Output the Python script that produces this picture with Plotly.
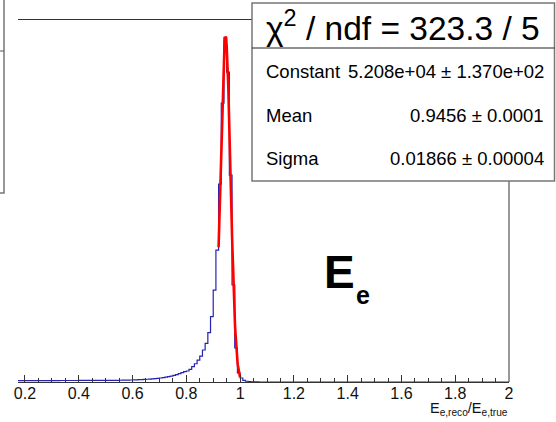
import numpy as np
import plotly.graph_objects as go

# ---------------- data ----------------
bin_start = 0.17          # lower edge of the first bin
bin_width = 0.01
counts = [
    200, 200, 205, 205, 205, 210, 210, 210, 215, 215,          # 0.17-0.26
    215, 215, 220, 220, 220, 220, 225, 225, 225, 225,          # 0.27-0.36
    230, 230, 230, 232, 235, 235, 238, 240, 240, 242,          # 0.37-0.46
    245, 245, 248, 250, 252, 255, 258, 260, 265, 270,          # 0.47-0.56
    280, 290, 300, 315, 330, 345, 365, 390, 415, 440,          # 0.57-0.66
    470, 500, 540, 600, 660, 730, 800, 900, 1000, 1120,        # 0.67-0.76
    1250, 1400, 1550, 1660, 1915, 2310, 2750, 3300, 3900, 4830,  # 0.77-0.86
    5840, 7440, 9850, 13870, 19900, 29860, 42070, 52000, 46750, 31200,  # 0.87-0.96
    14630, 5130, 1360, 600, 250, 110, 50, 25, 12, 5,           # 0.97-1.06
    0, 0, 0, 0, 0, 0, 0, 0, 0, 0,                              # 1.07-1.16
    0, 0, 0, 0, 0, 0, 0, 0, 0, 0,
    0, 0, 0, 0, 0, 0, 0, 0, 0, 0,
    0, 0, 0, 0, 0, 0, 0, 0, 0, 0,
    0, 0, 0, 0, 0, 0, 0, 0, 0, 0,
    0, 0, 0, 0, 0, 0, 0, 0, 0, 0,
    0, 0, 0, 0, 0, 0, 0, 0, 0, 0,
    0, 0, 0, 0, 0, 0, 0, 0, 0, 0,
    0, 0, 0, 0, 0, 0, 0, 0, 0, 0,
    0, 0, 0, 0, 0, 0, 0, 0, 0, 0,
    0, 0, 0,                                                   # up to 2.00
]

fit_const = 5.208e4
fit_mean = 0.9456
fit_sigma = 0.01866
fit_range = (0.92, 1.00)

chi2_text = "χ<sup>2</sup> / ndf = 323.3 / 5"
stat_rows = [("Constant", "5.208e+04 ± 1.370e+02"),
             ("Mean", "0.9456 ± 0.0001"),
             ("Sigma", "0.01866 ± 0.00004")]
xtick_vals = [0.2, 0.4, 0.6, 0.8, 1.0, 1.2, 1.4, 1.6, 1.8, 2.0]
xtick_text = ["0.2", "0.4", "0.6", "0.8", "1", "1.2", "1.4", "1.6", "1.8", "2"]

# ---------------- layout geometry ----------------
W, H = 556, 422
L, R, T, B = 18, 47, 20, 40
PW, PH = W - L - R, H - T - B
def px(x):
    return (x - L) / PW
def py(y):
    return 1 - (y - T) / PH

FONT = "Liberation Sans, Arial, sans-serif"

edges = bin_start + bin_width * np.arange(len(counts) + 1)
hx = list(edges)
hy = list(counts) + [counts[-1]]

fx = np.linspace(fit_range[0], fit_range[1], 200)
fy = fit_const * np.exp(-0.5 * ((fx - fit_mean) / fit_sigma) ** 2)

fig = go.Figure()
fig.add_trace(go.Scatter(x=hx, y=hy, mode="lines", line=dict(color="#2424b0", width=1.2, shape="hv"),
                         hoverinfo="skip", showlegend=False))
fig.add_trace(go.Scatter(x=fx, y=fy, mode="lines", line=dict(color="#ff0000", width=2.6),
                         hoverinfo="skip", showlegend=False))

ymax = 54600
fig.update_layout(
    width=W, height=H, margin=dict(l=L, r=R, t=T, b=B),
    paper_bgcolor="white", plot_bgcolor="white", showlegend=False,
    font=dict(family=FONT, color="black"),
    xaxis=dict(range=[0.174, 2.0], showgrid=False, zeroline=False,
               showline=True, mirror=True, linecolor="#333", linewidth=1,
               ticks="inside", ticklen=7, tickcolor="#333", tickwidth=1,
               tickvals=xtick_vals, ticktext=xtick_text, ticklabelstandoff=-3,
               tickfont=dict(size=16, family=FONT, color="#111"),
               minor=dict(ticks="inside", ticklen=4, dtick=0.05, tick0=0.2, tickcolor="#333")),
    yaxis=dict(range=[0, ymax], visible=False, showgrid=False, zeroline=False),
)

shapes = []
# right frame edge
shapes.append(dict(type="line", xref="paper", yref="paper", x0=1, x1=1, y0=0, y1=1,
                   line=dict(color="#333", width=1)))
# left (cropped) stats box
shapes.append(dict(type="rect", xref="paper", yref="paper", x0=px(-10), x1=px(4), y0=py(193), y1=py(-10),
                   line=dict(color="#777", width=1.5), fillcolor="white", layer="above"))
shapes.append(dict(type="line", xref="paper", yref="paper", x0=px(-10), x1=px(4), y0=py(51), y1=py(51),
                   line=dict(color="#555", width=1), layer="above"))
# fit stats box
shapes.append(dict(type="rect", xref="paper", yref="paper", x0=px(252), x1=px(554.5), y0=py(181), y1=py(3),
                   line=dict(color="#777", width=1.5), fillcolor="white", layer="above"))
shapes.append(dict(type="line", xref="paper", yref="paper", x0=px(252), x1=px(554.5), y0=py(48), y1=py(48),
                   line=dict(color="#222", width=1), layer="above"))
fig.update_layout(shapes=shapes)

ann = []
ann.append(dict(text=chi2_text, xref="paper", yref="paper", x=px(403), y=py(26), xanchor="center",
                yanchor="middle", showarrow=False, font=dict(size=33.5, family=FONT, color="black")))
row_y = [72, 115, 158]
for (lab, val), yy in zip(stat_rows, row_y):
    ann.append(dict(text=lab, xref="paper", yref="paper", x=px(264), y=py(yy), xanchor="left",
                    yanchor="middle", showarrow=False, font=dict(size=18.5, family=FONT, color="black")))
    ann.append(dict(text=val, xref="paper", yref="paper", x=px(546), y=py(yy), xanchor="right",
                    yanchor="middle", showarrow=False, font=dict(size=18.5, family=FONT, color="black")))
# big E_e label
ann.append(dict(text="<b>E</b>", xref="paper", yref="paper", x=px(322), y=py(272), xanchor="left",
                yanchor="middle", showarrow=False, font=dict(size=46, family=FONT, color="black")))
ann.append(dict(text="<b>e</b>", xref="paper", yref="paper", x=px(354), y=py(295), xanchor="left",
                yanchor="middle", showarrow=False, font=dict(size=25, family=FONT, color="black")))
# x-axis title
ann.append(dict(text="E<sub>e,reco</sub>/E<sub>e,true</sub>", xref="paper", yref="paper",
                x=px(510), y=py(409), xanchor="right", yanchor="middle", showarrow=False,
                font=dict(size=14.5, family=FONT, color="#111")))
fig.update_layout(annotations=ann)

fig.write_html("out.html")
